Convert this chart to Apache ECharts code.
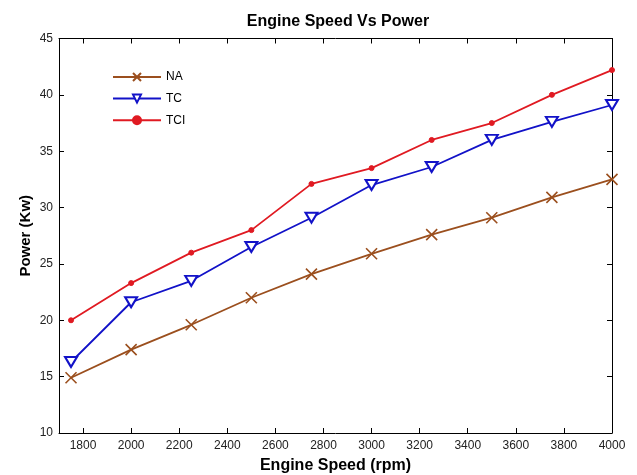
<!DOCTYPE html>
<html>
<head>
<meta charset="utf-8">
<script src="https://cdn.jsdelivr.net/npm/echarts@6/dist/echarts.min.js"></script>
<style>
html,body{margin:0;padding:0;background:#fff;}
#chart{width:637px;height:475px;}
</style>
</head>
<body>
<div id="chart"></div>
<script>
const rpm = [1750, 2000, 2250, 2500, 2750, 3000, 3250, 3500, 3750, 4000];
const powerNA = [14.9, 17.4, 19.6, 22.0, 24.1, 25.9, 27.6, 29.1, 30.9, 32.5];
const powerTC = [16.3, 21.6, 23.5, 26.5, 29.1, 32.0, 33.6, 36.0, 37.6, 39.1];
const powerTCI = [20.0, 23.3, 26.0, 28.0, 32.1, 33.5, 36.0, 37.5, 40.0, 42.2];
const xTicks = [1800, 2000, 2200, 2400, 2600, 2800, 3000, 3200, 3400, 3600, 3800, 4000];
const yTicks = [10, 15, 20, 25, 30, 35, 40, 45];

const FONT = 'Liberation Sans, Arial, sans-serif';
const cNA = '#9b4f1e', cTC = '#1212c8', cTCI = '#e01a22';

function pairs(xs, ys) { return xs.map((x, i) => [x, ys[i]]); }

const chart = echarts.init(document.getElementById('chart'), null, {renderer: 'canvas'});
const axisLine = {show: true, lineStyle: {color: '#000', width: 1}};
const option = {
  animation: false,
  backgroundColor: '#fff',
  title: {
    text: 'Engine Speed Vs Power',
    left: 333, top: 9, textAlign: 'center',
    textStyle: {fontFamily: FONT, fontSize: 16, fontWeight: 'bold', color: '#000'}
  },
  legend: {
    orient: 'vertical', left: 107, top: 66,
    itemWidth: 48, itemHeight: 10, itemGap: 9.6,
    textStyle: {fontFamily: FONT, fontSize: 12, color: '#000'},
    data: ['NA', 'TC', 'TCI']
  },
  grid: {left: 59, right: 25, top: 38.5, bottom: 42, containLabel: false, outerBoundsMode: 'none'},
  xAxis: [{
    type: 'value', min: 1700, max: 4000, position: 'bottom',
    name: 'Engine Speed (rpm)', nameLocation: 'middle', nameGap: 25, nameMoveOverlap: false,
    nameTextStyle: {fontFamily: FONT, fontSize: 16, fontWeight: 'bold', color: '#000'},
    axisLine: axisLine,
    axisTick: {show: true, inside: true, length: 5, customValues: xTicks, lineStyle: {color: '#000'}},
    axisLabel: {show: true, customValues: xTicks, margin: 7, fontFamily: FONT, fontSize: 12, color: '#222',
      formatter: function (v) { return String(v); }},
    splitLine: {show: false}
  }, {
    type: 'value', min: 1700, max: 4000, position: 'top',
    axisLine: axisLine,
    axisTick: {show: true, inside: true, length: 5, customValues: xTicks, lineStyle: {color: '#000'}},
    axisLabel: {show: false},
    splitLine: {show: false}
  }],
  yAxis: [{
    type: 'value', min: 10, max: 45, interval: 5, position: 'left',
    name: 'Power (Kw)', nameLocation: 'middle', nameGap: 26, nameRotate: 90, nameMoveOverlap: false,
    nameTextStyle: {fontFamily: FONT, fontSize: 15, fontWeight: 'bold', color: '#000'},
    axisLine: axisLine,
    axisTick: {show: true, inside: true, length: 5, lineStyle: {color: '#000'}},
    axisLabel: {show: true, margin: 6, fontFamily: FONT, fontSize: 12, color: '#222'},
    splitLine: {show: false}
  }, {
    type: 'value', min: 10, max: 45, interval: 5, position: 'right',
    axisLine: axisLine,
    axisTick: {show: true, inside: true, length: 5, lineStyle: {color: '#000'}},
    axisLabel: {show: false},
    splitLine: {show: false}
  }],
  series: [{
    name: 'NA', type: 'line', xAxisIndex: 0, yAxisIndex: 0,
    data: pairs(rpm, powerNA),
    symbol: 'path://M0,0L10,10M0,10L10,0', symbolSize: 11,
    lineStyle: {color: cNA, width: 1.8},
    itemStyle: {color: cNA, borderColor: cNA, borderWidth: 1.6}
  }, {
    name: 'TC', type: 'line', xAxisIndex: 0, yAxisIndex: 0,
    data: pairs(rpm, powerTC),
    symbol: 'triangle', symbolRotate: 180, symbolSize: [12, 10],
    lineStyle: {color: cTC, width: 1.8},
    itemStyle: {color: '#fff', borderColor: cTC, borderWidth: 2}
  }, {
    name: 'TCI', type: 'line', xAxisIndex: 0, yAxisIndex: 0,
    data: pairs(rpm, powerTCI),
    symbol: 'circle', symbolSize: 5,
    lineStyle: {color: cTCI, width: 1.8},
    itemStyle: {color: cTCI, borderColor: cTCI, borderWidth: 1}
  }]
};
chart.setOption(option);
</script>
</body>
</html>
